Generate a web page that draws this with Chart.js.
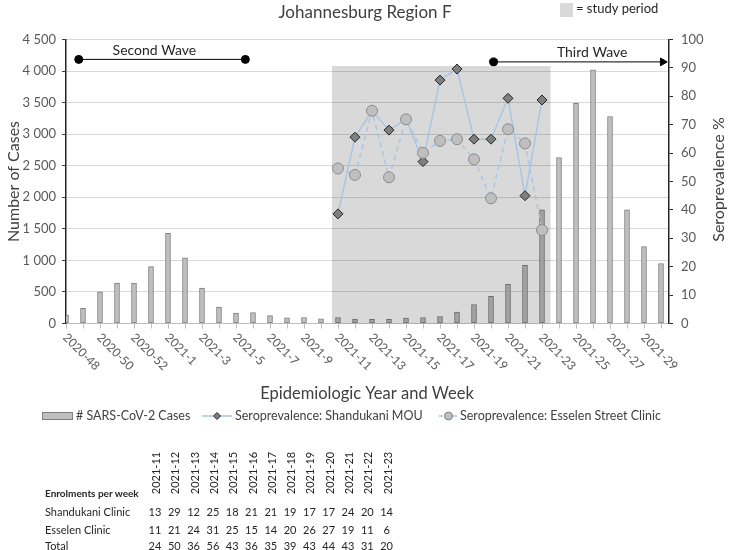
<!DOCTYPE html>
<html>
<head>
<meta charset="utf-8">
<title>Johannesburg Region F</title>
<script src="https://cdn.jsdelivr.net/npm/chart.js@4.4.1/dist/chart.umd.min.js"></script>
<style>
  body { margin: 0; background: #fff; }
  #wrap { position: relative; width: 729px; height: 550px; overflow: hidden; font-family: Lato, "Liberation Sans", sans-serif; color: #262626; }
  #wrap canvas { position: absolute; left: 0; top: 0; }
  .cell { position: absolute; white-space: nowrap; font-size: 11px; line-height: 1; transform: translate(-50%, -50%); }
  .lbl { transform: translate(0, -50%); }
  .bold { font-weight: bold; font-size: 10px; }
  .head { transform: translate(-50%, -50%) rotate(-90deg); }
</style>
</head>
<body>
<div id="wrap">
  <canvas id="chart" width="729" height="550"></canvas>
  <div id="enrol"></div>
</div>
<script>
var weeks = ["2020-48", "2020-49", "2020-50", "2020-51", "2020-52", "2020-53",
             "2021-1", "2021-2", "2021-3", "2021-4", "2021-5", "2021-6", "2021-7", "2021-8",
             "2021-9", "2021-10", "2021-11", "2021-12", "2021-13", "2021-14", "2021-15",
             "2021-16", "2021-17", "2021-18", "2021-19", "2021-20", "2021-21", "2021-22",
             "2021-23", "2021-24", "2021-25", "2021-26", "2021-27", "2021-28", "2021-29", "2021-30"],
    cases = [130, 240, 500, 640, 640, 900,
             1430, 1040, 560, 260, 165, 175, 125, 90,
             95, 75, 95, 70, 65, 65, 85,
             95, 110, 180, 300, 430, 620, 920,
             1800, 2630, 3490, 4020, 3280, 1800, 1220, 950],
    xTickLabels = ["2020-48", "2020-50", "2020-52", "2021-1", "2021-3", "2021-5", "2021-7", "2021-9",
                   "2021-11", "2021-13", "2021-15", "2021-17", "2021-19", "2021-21", "2021-23",
                   "2021-25", "2021-27", "2021-29"];

var studyWeeks = ["2021-11", "2021-12", "2021-13", "2021-14", "2021-15", "2021-16", "2021-17",
                  "2021-18", "2021-19", "2021-20", "2021-21", "2021-22", "2021-23"],
    shandukani = [38.6, 65.6, 74.9, 68.1, 71.9, 57.0, 85.7, 89.6, 64.9, 64.9, 79.3, 45.0, 78.7],
    esselen = [54.6, 52.3, 74.9, 51.5, 71.9, 60.1, 64.3, 64.9, 57.8, 44.1, 68.4, 63.4, 32.9],
    studyTop = 4080;

var waveNames = ["Second Wave", "Third Wave"],
    waveFrom = [0.75, 25.15],
    waveTo = [10.55, 35.1],
    waveLevel = [4185, 4145],
    waveTextAt = [5.2, 30.95];

var enrolSites = ["Shandukani Clinic", "Esselen Clinic", "Total"],
    enrolShandukani = [13, 29, 12, 25, 18, 21, 21, 19, 17, 17, 24, 20, 14],
    enrolEsselen = [11, 21, 24, 31, 25, 15, 14, 20, 26, 27, 19, 11, 6],
    enrolTotal = [24, 50, 36, 56, 43, 36, 35, 39, 43, 44, 43, 31, 20];

var FONT = 'Lato, "Liberation Sans", sans-serif',
    LINE_BLUE = "#a9c5e4";

function spaced(v) {
    if (v < 1000) return String(v);
    return Math.floor(v / 1000) + " " + String(v % 1000).padStart(3, "0");
}

function seroPoints(values) {
    return values.map(function (v, i) {
        return { x: weeks.indexOf(studyWeeks[i]), y: v };
    });
}

function wavePoints(i) {
    return [{ x: waveFrom[i], y: waveLevel[i] }, { x: waveTo[i], y: waveLevel[i] }];
}

var decorations = {
    id: "decorations",
    afterDatasetDraw: function (chart, args) {
        if (args.index !== 0) return;
        // study period shading goes over the bars, under the lines
        var ctx = chart.ctx, x = chart.scales.x, y = chart.scales.y, area = chart.chartArea,
            x0 = x.getPixelForValue(weeks.indexOf(studyWeeks[0]) - 0.35),
            x1 = x.getPixelForValue(weeks.indexOf(studyWeeks[studyWeeks.length - 1]) + 0.5),
            yt = y.getPixelForValue(studyTop);
        ctx.save();
        ctx.fillStyle = "rgba(0,0,0,0.15)";
        ctx.fillRect(x0, yt, x1 - x0, area.bottom - yt);
        ctx.restore();
    },
    afterDraw: function (chart) {
        var ctx = chart.ctx, x = chart.scales.x, y = chart.scales.y, area = chart.chartArea;
        ctx.save();

        // x tick labels, slanted down to the right
        ctx.fillStyle = "#595959";
        ctx.font = "12px " + FONT;
        ctx.textAlign = "left";
        ctx.textBaseline = "middle";
        xTickLabels.forEach(function (lab) {
            var px = x.getPixelForValue(weeks.indexOf(lab));
            ctx.save();
            ctx.translate(px - 1, area.bottom + 12);
            ctx.rotate(Math.PI / 4);
            ctx.fillText(lab, 0, 0);
            ctx.restore();
        });

        // titles
        ctx.fillStyle = "#404040";
        ctx.textAlign = "center";
        ctx.font = "17px " + FONT;
        ctx.fillText("Johannesburg Region F", 365, 13);
        ctx.font = "16.5px " + FONT;
        ctx.fillText("Epidemiologic Year and Week", 367, 394);

        ctx.font = "16px " + FONT;
        ctx.save();
        ctx.translate(14, (area.top + area.bottom) / 2);
        ctx.rotate(-Math.PI / 2);
        ctx.fillText("Number of Cases", 0, 0);
        ctx.restore();
        ctx.save();
        ctx.translate(719, (area.top + area.bottom) / 2 - 2);
        ctx.rotate(-Math.PI / 2);
        ctx.fillText("Seroprevalence %", 0, 0);
        ctx.restore();

        // wave names
        ctx.font = "14px " + FONT;
        ctx.fillStyle = "#262626";
        waveNames.forEach(function (name, i) {
            ctx.fillText(name, x.getPixelForValue(waveTextAt[i]), y.getPixelForValue(waveLevel[i]) - 9);
        });

        // study period key
        ctx.fillStyle = "#d9d9d9";
        ctx.fillRect(560, 3, 13, 14);
        ctx.fillStyle = "#262626";
        ctx.textAlign = "left";
        ctx.font = "13px " + FONT;
        ctx.fillText("= study period", 576, 9);

        // bottom legend
        var ly = 416;
        ctx.font = "12.5px " + FONT;
        ctx.fillStyle = "#bfbfbf";
        ctx.strokeStyle = "#808080";
        ctx.lineWidth = 1;
        ctx.fillRect(42, ly - 3.5, 31, 7);
        ctx.strokeRect(42.5, ly - 3.5, 30, 7);
        ctx.fillStyle = "#404040";
        ctx.fillText("# SARS-CoV-2 Cases", 76, ly);

        ctx.strokeStyle = LINE_BLUE;
        ctx.lineWidth = 1.5;
        ctx.beginPath();
        ctx.moveTo(202, ly);
        ctx.lineTo(232, ly);
        ctx.stroke();
        ctx.beginPath();
        ctx.moveTo(217, ly - 3.5);
        ctx.lineTo(220.5, ly);
        ctx.lineTo(217, ly + 3.5);
        ctx.lineTo(213.5, ly);
        ctx.closePath();
        ctx.fillStyle = "#7f7f7f";
        ctx.fill();
        ctx.strokeStyle = "#262626";
        ctx.lineWidth = 1;
        ctx.stroke();
        ctx.fillStyle = "#404040";
        ctx.fillText("Seroprevalence: Shandukani MOU", 235, ly);

        ctx.strokeStyle = LINE_BLUE;
        ctx.lineWidth = 1.5;
        ctx.setLineDash([4, 3]);
        ctx.beginPath();
        ctx.moveTo(439, ly);
        ctx.lineTo(458, ly);
        ctx.stroke();
        ctx.setLineDash([]);
        ctx.beginPath();
        ctx.arc(448.5, ly, 4, 0, Math.PI * 2);
        ctx.fillStyle = "#bfbfbf";
        ctx.fill();
        ctx.strokeStyle = "#808080";
        ctx.lineWidth = 1;
        ctx.stroke();
        ctx.fillStyle = "#404040";
        ctx.fillText("Seroprevalence: Esselen Street Clinic", 460, ly);

        ctx.restore();
    }
};

function drawChart() {
    var ctx = document.getElementById("chart");
    var tickFont = { family: FONT, size: 13 };

    new Chart(ctx, {
        type: "bar",
        data: {
            datasets: [{
                label: "# SARS-CoV-2 Cases",
                data: cases.map(function (v, i) { return { x: i, y: v }; }),
                backgroundColor: "#bfbfbf",
                borderColor: "#7f7f7f",
                borderWidth: 1,
                borderSkipped: false,
                barThickness: 5,
                yAxisID: "y",
                order: 3
            }, {
                type: "line",
                label: "Seroprevalence: Shandukani MOU",
                data: seroPoints(shandukani),
                borderColor: LINE_BLUE,
                borderWidth: 1.5,
                pointStyle: "rectRot",
                pointRadius: 5,
                pointBackgroundColor: "#7f7f7f",
                pointBorderColor: "#262626",
                pointBorderWidth: 1,
                yAxisID: "y2",
                order: 2
            }, {
                type: "line",
                label: "Seroprevalence: Esselen Street Clinic",
                data: seroPoints(esselen),
                borderColor: LINE_BLUE,
                borderWidth: 1.5,
                borderDash: [5, 4],
                pointStyle: "circle",
                pointRadius: 5.5,
                pointBackgroundColor: "#bfbfbf",
                pointBorderColor: "#8c8c8c",
                pointBorderWidth: 1,
                yAxisID: "y2",
                order: 1
            }, {
                type: "line",
                label: waveNames[0],
                data: wavePoints(0),
                borderColor: "#000",
                borderWidth: 1,
                pointRadius: 4,
                pointBackgroundColor: "#000",
                pointBorderColor: "#000",
                yAxisID: "y",
                clip: false,
                order: 0
            }, {
                type: "line",
                label: waveNames[1],
                data: wavePoints(1),
                borderColor: "#000",
                borderWidth: 1,
                pointStyle: ["circle", "triangle"],
                rotation: [0, 90],
                pointRadius: [4, 4.5],
                pointBackgroundColor: "#000",
                pointBorderColor: "#000",
                yAxisID: "y",
                clip: false,
                order: 0
            }]
        },
        options: {
            responsive: false,
            animation: false,
            devicePixelRatio: 1,
            layout: { padding: { top: 39.5 } },
            plugins: {
                legend: { display: false },
                title: { display: false },
                tooltip: { enabled: false }
            },
            scales: {
                x: {
                    type: "linear",
                    min: 0,
                    max: 35.47,
                    offset: false,
                    afterBuildTicks: function (s) {
                        s.ticks = weeks.map(function (w, i) { return { value: i }; });
                    },
                    afterFit: function (s) { s.height = 226.5; },
                    ticks: { display: false },
                    grid: { drawOnChartArea: false, drawTicks: true, tickLength: 5, tickColor: "#bfbfbf", offset: false },
                    border: { color: "#bfbfbf", width: 1 }
                },
                y: {
                    position: "left",
                    min: 0,
                    max: 4500,
                    afterFit: function (s) { s.width = 66; },
                    ticks: { stepSize: 500, callback: spaced, color: "#595959", font: tickFont, padding: 6 },
                    grid: { color: "#d9d9d9", tickColor: "#404040", tickLength: 4 },
                    border: { color: "#262626", width: 1.5 }
                },
                y2: {
                    position: "right",
                    min: 0,
                    max: 100,
                    afterFit: function (s) { s.width = 60; },
                    ticks: { stepSize: 10, color: "#595959", font: tickFont, padding: 8 },
                    grid: { drawOnChartArea: false, tickColor: "#262626", tickLength: 4 },
                    border: { color: "#262626", width: 1.5 }
                }
            }
        },
        plugins: [decorations]
    });
}

function addCell(box, text, x, y, cls) {
    var d = document.createElement("div");
    d.className = "cell " + (cls || "");
    d.textContent = text;
    d.style.left = x + "px";
    d.style.top = y + "px";
    box.appendChild(d);
}

function drawTable() {
    var box = document.getElementById("enrol"),
        rows = [enrolShandukani, enrolEsselen, enrolTotal],
        rowY = [511, 528.5, 545],
        colX = function (i) { return 155 + i * 19.3; };

    addCell(box, "Enrolments per week", 45, 493, "lbl bold");
    studyWeeks.forEach(function (w, i) {
        addCell(box, w, colX(i), 473, "head");
    });
    rows.forEach(function (vals, r) {
        addCell(box, enrolSites[r], 45, rowY[r], "lbl");
        vals.forEach(function (v, i) {
            addCell(box, v, colX(i), rowY[r]);
        });
    });
}

window.onload = function () {
    drawChart();
    drawTable();
};
</script>
</body>
</html>
